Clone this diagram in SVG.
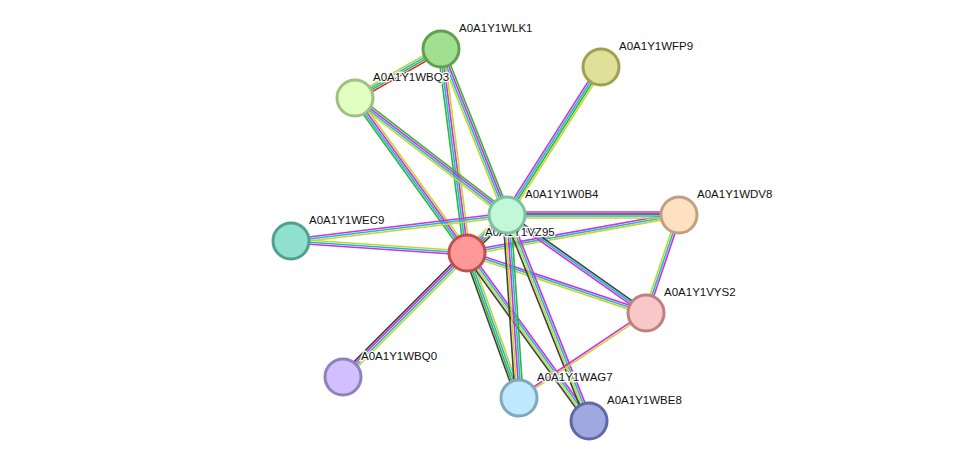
<svg xmlns="http://www.w3.org/2000/svg" width="975" height="467" viewBox="0 0 975 467">
<style>
line{stroke-width:1.6;fill:none}
.y{stroke:#c6d62e}.c{stroke:#1fb8d8}.m{stroke:#d030d8}.g{stroke:#35b535}.k{stroke:#404040}.r{stroke:#e02020}
circle{stroke-width:3}
text{font-family:"Liberation Sans",Arial,sans-serif;font-size:11.5px;fill:#111;paint-order:stroke;stroke:#fff;stroke-width:2.5px}
</style>
<rect width="975" height="467" fill="#fff"/>
<g id="edges">
<g transform="translate(467,253) rotate(-43.5)"><line class="y" x2="55" y1="-4" y2="-4"/><line class="c" x2="55" y1="-2" y2="-2"/><line class="m" x2="55"/><line class="g" x2="55" y1="2" y2="2"/><line class="k" x2="55" y1="4" y2="4"/></g>
<g transform="translate(467,253) rotate(-97.3)"><line class="g" x2="206" y1="-3" y2="-3"/><line class="c" x2="206" y1="-1" y2="-1"/><line class="m" x2="206" y1="1" y2="1"/><line class="y" x2="206" y1="3" y2="3"/></g>
<g transform="translate(467,253) rotate(-125.8)"><line class="g" x2="191" y1="-3" y2="-3"/><line class="c" x2="191" y1="-1" y2="-1"/><line class="m" x2="191" y1="1" y2="1"/><line class="y" x2="191" y1="3" y2="3"/></g>
<g transform="translate(467,253) rotate(-176.1)"><line class="m" x2="176" y1="-2" y2="-2"/><line class="c" x2="176"/><line class="y" x2="176" y1="2" y2="2"/></g>
<g transform="translate(467,253) rotate(-10.2)"><line class="m" x2="215" y1="-2" y2="-2"/><line class="c" x2="215"/><line class="y" x2="215" y1="2" y2="2"/></g>
<g transform="translate(467,253) rotate(18.5)"><line class="m" x2="189" y1="-2" y2="-2"/><line class="c" x2="189"/><line class="y" x2="189" y1="2" y2="2"/></g>
<g transform="translate(467,253) rotate(135)"><line class="y" x2="175" y1="-3" y2="-3"/><line class="c" x2="175" y1="-1" y2="-1"/><line class="m" x2="175" y1="1" y2="1"/><line class="k" x2="175" y1="3" y2="3"/></g>
<g transform="translate(467,253) rotate(70.3)"><line class="y" x2="154" y1="-3" y2="-3"/><line class="c" x2="154" y1="-1" y2="-1"/><line class="g" x2="154" y1="1" y2="1"/><line class="k" x2="154" y1="3" y2="3"/></g>
<g transform="translate(467,253) rotate(54)"><line class="m" x2="208" y1="-3" y2="-3"/><line class="c" x2="208" y1="-1" y2="-1"/><line class="y" x2="208" y1="1" y2="1"/><line class="k" x2="208" y1="3" y2="3"/></g>
<g transform="translate(507,215) rotate(-111.7)"><line class="y" x2="179" y1="-3" y2="-3"/><line class="c" x2="179" y1="-1" y2="-1"/><line class="m" x2="179" y1="1" y2="1"/><line class="g" x2="179" y1="3" y2="3"/></g>
<g transform="translate(507,215) rotate(-142.4)"><line class="y" x2="192" y1="-3" y2="-3"/><line class="c" x2="192" y1="-1" y2="-1"/><line class="m" x2="192" y1="1" y2="1"/><line class="g" x2="192" y1="3" y2="3"/></g>
<g transform="translate(507,215) rotate(-57.6)"><line class="m" x2="175" y1="-3" y2="-3"/><line class="c" x2="175" y1="-1" y2="-1"/><line class="g" x2="175" y1="1" y2="1"/><line class="y" x2="175" y1="3" y2="3"/></g>
<g transform="translate(507,215)"><line class="m" x2="172" y1="-3" y2="-3"/><line class="k" x2="172" y1="-1" y2="-1"/><line class="c" x2="172" y1="1" y2="1"/><line class="y" x2="172" y1="3" y2="3"/></g>
<g transform="translate(507,215) rotate(173.1)"><line class="y" x2="218" y1="-2" y2="-2"/><line class="c" x2="218"/><line class="m" x2="218" y1="2" y2="2"/></g>
<g transform="translate(507,215) rotate(35.2)"><line class="k" x2="170" y1="-2" y2="-2"/><line class="c" x2="170"/><line class="m" x2="170" y1="2" y2="2"/></g>
<g transform="translate(507,215) rotate(86.2)"><line class="g" x2="183" y1="-4" y2="-4"/><line class="c" x2="183" y1="-2" y2="-2"/><line class="m" x2="183"/><line class="y" x2="183" y1="2" y2="2"/><line class="k" x2="183" y1="4" y2="4"/></g>
<g transform="translate(507,215) rotate(68.3)"><line class="m" x2="222" y1="-3" y2="-3"/><line class="c" x2="222" y1="-1" y2="-1"/><line class="y" x2="222" y1="1" y2="1"/><line class="k" x2="222" y1="3" y2="3"/></g>
<g transform="translate(441,49) rotate(150.3)"><line class="r" x2="99" y1="-3" y2="-3"/><line class="g" x2="99" y1="-1" y2="-1"/><line class="c" x2="99" y1="1" y2="1"/><line class="y" x2="99" y1="3" y2="3"/></g>
<g transform="translate(679,215) rotate(108.6)"><line class="m" x2="103" y1="-2" y2="-2"/><line class="c" x2="103"/><line class="y" x2="103" y1="2" y2="2"/></g>
<g transform="translate(646,313) rotate(146.2)"><line class="y" x2="153" y1="-1" y2="-1"/><line class="m" x2="153" y1="1" y2="1"/></g>
</g>
<g id="WLK1"><circle cx="441" cy="49" r="18" fill="#a0e090" stroke="#60a050"/><text x="459" y="32">A0A1Y1WLK1</text></g>
<g id="WBQ3"><circle cx="355" cy="98" r="18" fill="#e0ffc0" stroke="#a0c080"/><text x="373" y="81">A0A1Y1WBQ3</text></g>
<g id="WFP9"><circle cx="601" cy="67" r="18" fill="#e0e09a" stroke="#a0a050"/><text x="619" y="50">A0A1Y1WFP9</text></g>
<g id="WDV8"><circle cx="679" cy="215" r="18" fill="#ffe0c0" stroke="#c0a080"/><text x="697" y="198">A0A1Y1WDV8</text></g>
<g id="WEC9"><circle cx="291" cy="241" r="18" fill="#90e0d0" stroke="#50a090"/><text x="309" y="224">A0A1Y1WEC9</text></g>
<g id="VYS2"><circle cx="646" cy="313" r="18" fill="#f8c8c8" stroke="#c08080"/><text x="664" y="296">A0A1Y1VYS2</text></g>
<g id="WBQ0"><circle cx="343" cy="377" r="18" fill="#d0c0ff" stroke="#9080c0"/><text x="361" y="360">A0A1Y1WBQ0</text></g>
<g id="WAG7"><circle cx="519" cy="398" r="18" fill="#c0e8ff" stroke="#80a8c0"/><text x="537" y="381">A0A1Y1WAG7</text></g>
<g id="WBE8"><circle cx="589" cy="421" r="18" fill="#a0a8e0" stroke="#6068a8"/><text x="607" y="404">A0A1Y1WBE8</text></g>
<g id="VZ95"><circle cx="467" cy="253" r="18" fill="#ff9999" stroke="#c05050"/><text x="485" y="236">A0A1Y1VZ95</text></g>
<g id="W0B4"><circle cx="507" cy="215" r="18" fill="#c0f8d8" stroke="#80c0a0"/><text x="525" y="198">A0A1Y1W0B4</text></g>
</svg>
